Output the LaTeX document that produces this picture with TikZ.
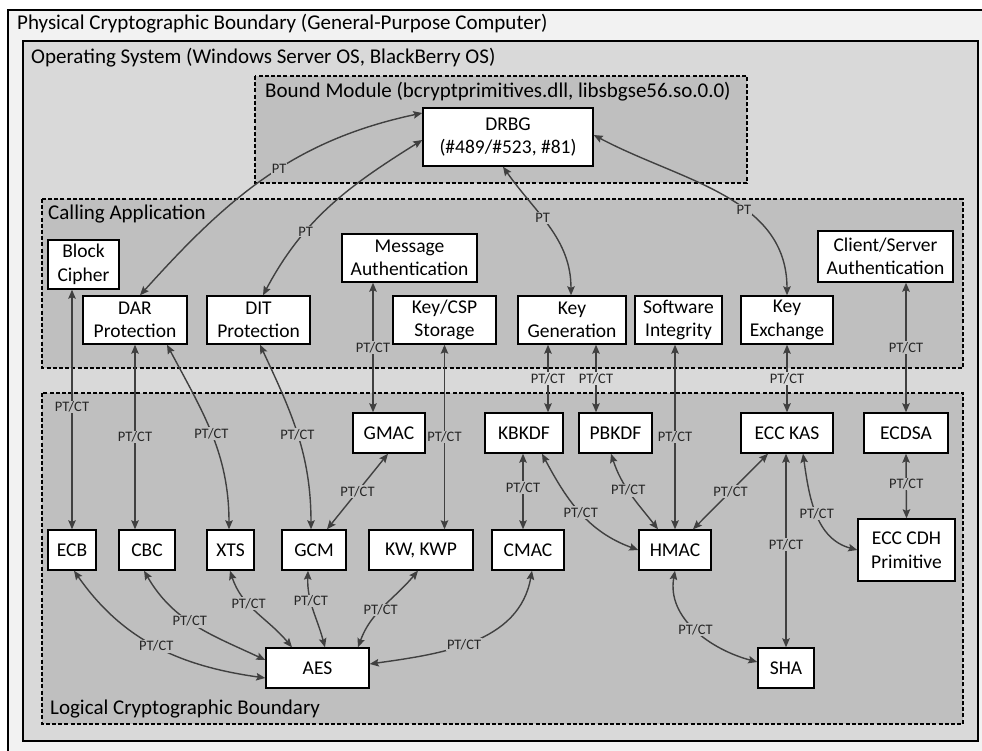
\documentclass[tikz,border=0pt]{standalone}
\usepackage{fontspec}
\setmainfont{Carlito}
\usetikzlibrary{arrows.meta,calc}
\definecolor{outerfill}{HTML}{F2F2F2}
\definecolor{osfill}{HTML}{D9D9D9}
\definecolor{innerfill}{HTML}{BFBFBF}
\definecolor{arrowcol}{HTML}{404040}
\begin{document}
\begin{tikzpicture}[x=1pt,y=1pt,
  box/.style={draw=black,line width=1.4pt,fill=white,inner sep=0pt,align=center,
    font=\fontsize{19.5}{23.5}\selectfont},
  region/.style={draw=black,line width=1.9pt,dash pattern=on 4pt off 2.2pt,fill=innerfill},
  title/.style={anchor=west,inner sep=0pt,font=\fontsize{21}{24}\selectfont},
  conn/.style={draw=arrowcol,line width=1.4pt,{Stealth[length=9pt,width=7.5pt,inset=1.5pt]}-{Stealth[length=9pt,width=7.5pt,inset=1.5pt]}},
  lbl/.style={fill=innerfill,inner sep=1pt,text=black!85,font=\fontsize{14.5}{16}\selectfont},
  lblos/.style={lbl,fill=osfill}]
\useasboundingbox (0,0) rectangle (982,-751);
\clip (0,0) rectangle (982,-751);
% regions
\draw[fill=outerfill,line width=1.4pt] (8,-10) rectangle (1000,-770);
\draw[fill=osfill,line width=1.4pt] (23,-41) rectangle (978,-741);
\draw[region] (255,-76) rectangle (747,-183);
\draw[region] (42,-199) rectangle (963,-368);
\draw[region] (42,-393) rectangle (963,-724);
\node[title] (tphys) at (17,-24) {Physical Cryptographic Boundary (General-Purpose Computer)};
\node[title] (tos) at (31,-58) {Operating System (Windows Server OS, BlackBerry OS)};
\node[title] (tbound) at (265,-92) {Bound Module (bcryptprimitives.dll, libsbgse56.so.0.0)};
\node[title] (tcall) at (48,-214) {Calling Application};
\node[title] (tlog) at (50,-709) {Logical Cryptographic Boundary};
% nodes
\node[box,minimum width=170,minimum height=58] (drbg) at (508,-137) {DRBG\\(\#489/\#523, \#81)};
\node[box,minimum width=71,minimum height=49] (blk) at (83.5,-264.5) {Block\\Cipher};
\node[box,minimum width=104,minimum height=48] (dar) at (135,-320) {DAR\\Protection};
\node[box,minimum width=103,minimum height=48] (dit) at (258.5,-320) {DIT\\Protection};
\node[box,minimum width=135,minimum height=48] (msg) at (409.5,-258) {Message\\Authentication};
\node[box,minimum width=103,minimum height=48] (kcsp) at (444.5,-320) {Key/CSP\\Storage};
\node[box,minimum width=108,minimum height=48] (kgen) at (572,-320) {Key\\Generation};
\node[box,minimum width=87,minimum height=48] (swi) at (678.5,-320) {Software\\Integrity};
\node[box,minimum width=92,minimum height=48] (kex) at (787,-320) {Key\\Exchange};
\node[box,minimum width=135,minimum height=51] (csa) at (885.5,-256.5) {Client/Server\\Authentication};
\node[box,minimum width=72,minimum height=40] (gmac) at (389,-433) {GMAC};
\node[box,minimum width=78,minimum height=40] (kbkdf) at (524,-433) {KBKDF};
\node[box,minimum width=73,minimum height=40] (pbkdf) at (615.5,-433) {PBKDF};
\node[box,minimum width=92,minimum height=40] (ecckas) at (787,-433) {ECC KAS};
\node[box,minimum width=84,minimum height=40] (ecdsa) at (906,-433) {ECDSA};
\node[box,minimum width=48,minimum height=40] (ecb) at (72,-550) {ECB};
\node[box,minimum width=56,minimum height=40] (cbc) at (147,-550) {CBC};
\node[box,minimum width=47,minimum height=40] (xts) at (230.5,-550) {XTS};
\node[box,minimum width=64,minimum height=40] (gcm) at (314,-550) {GCM};
\node[box,minimum width=104,minimum height=40] (kw) at (421,-550) {KW, KWP};
\node[box,minimum width=72,minimum height=40] (cmac) at (528,-550) {CMAC};
\node[box,minimum width=72,minimum height=40] (hmac) at (675,-550) {HMAC};
\node[box,minimum width=97,minimum height=62] (cdh) at (906.5,-550) {ECC CDH\\Primitive};
\node[box,minimum width=103,minimum height=40] (aes) at (317.5,-668) {AES};
\node[box,minimum width=56,minimum height=40] (sha) at (786,-668) {SHA};
% connectors to DRBG
\draw[conn] ([xshift=5]dar.north) to[out=48,in=192] node[lbl,pos=0.55]{PT} ([yshift=24]drbg.west);
\draw[conn] ([xshift=4.5]dit.north) to[out=62,in=212] node[lbl,pos=0.33]{PT} ([yshift=-3]drbg.west);
\draw[conn] ([xshift=-5]drbg.south) to[out=-55,in=90] node[lbl,pos=0.42]{PT} ([xshift=-1]kgen.north);
\draw[conn] ([yshift=2]drbg.east) to[out=-28,in=90] node[lbl,pos=0.6]{PT} (kex.north);
% calling app to logical
\draw[conn] (blk.south -| ecb.north) -- node[lbl,pos=0.49]{PT/CT} (ecb.north);
\draw[conn] (dar.south) -- node[lbl]{PT/CT} (dar.south |- cbc.north);
\draw[conn] ([xshift=32]dar.south) to[out=-62,in=90] node[lbl,pos=0.5]{PT/CT} ([xshift=-1.5]xts.north);
\draw[conn] ([xshift=1.5]dit.south) to[out=-65,in=90] node[lbl,pos=0.5]{PT/CT} ([xshift=-3]gcm.north);
\draw[conn] ([xshift=-36.5]msg.south) -- node[lbl]{PT/CT} ([xshift=-36.5]msg.south |- gmac.north);
\draw[conn] (kcsp.south) -- node[lbl]{PT/CT} (kcsp.south |- kw.north);
\draw[conn] ([xshift=-24]kgen.south) -- node[lblos]{PT/CT} ([xshift=-24]kgen.south |- kbkdf.north);
\draw[conn] ([xshift=24]kgen.south) -- node[lblos]{PT/CT} ([xshift=24]kgen.south |- pbkdf.north);
\draw[conn] (hmac.north |- swi.south) -- node[lbl]{PT/CT} (hmac.north);
\draw[conn] (kex.south) -- node[lblos]{PT/CT} (ecckas.north);
\draw[conn] (ecdsa.north |- csa.south) -- node[lbl]{PT/CT} (ecdsa.north);
% logical internal
\draw[conn] ([xshift=-1]gmac.south) -- node[lbl]{PT/CT} ([xshift=13]gcm.north);
\draw[conn] ([xshift=-1]kbkdf.south) -- node[lbl,pos=0.45]{PT/CT} ([xshift=-1]kbkdf.south |- cmac.north);
\draw[conn] ([xshift=18]kbkdf.south) to[out=-62,in=160] node[lbl,pos=0.5]{PT/CT} (hmac.west);
\draw[conn] ([xshift=-4.5]pbkdf.south) to[out=-72,in=128] node[lbl,pos=0.45]{PT/CT} ([xshift=-17]hmac.north);
\draw[conn] ([xshift=-19]ecckas.south) -- node[lbl]{PT/CT} ([xshift=18]hmac.north);
\draw[conn] (sha.north |- ecckas.south) -- node[lbl,pos=0.47]{PT/CT} (sha.north);
\draw[conn] ([xshift=16]ecckas.south) to[out=-82,in=165] node[lbl,pos=0.5]{PT/CT} (cdh.west);
\draw[conn] (ecdsa.south) -- node[lbl,pos=0.47]{PT/CT} (cdh.north);
% to AES
\draw[conn] ([xshift=2]ecb.south) to[out=-55,in=172] node[lbl,pos=0.5]{PT/CT} ([yshift=-10]aes.west);
\draw[conn] ([xshift=-3]cbc.south) to[out=-60,in=155] node[lbl,pos=0.45]{PT/CT} ([yshift=8]aes.west);
\draw[conn] ([xshift=-0.5]xts.south) to[out=-72,in=130] node[lbl,pos=0.38]{PT/CT} ([xshift=-25.5]aes.north);
\draw[conn] ([xshift=-6]gcm.south) to[out=-92,in=105] node[lbl,pos=0.38]{PT/CT} ([xshift=7.5]aes.north);
\draw[conn] ([xshift=-3]kw.south) to[out=-130,in=70] node[lbl,pos=0.55]{PT/CT} ([xshift=40.5]aes.north);
\draw[conn] ([xshift=4]cmac.south) to[out=-100,in=8] node[lbl,pos=0.55]{PT/CT} ([yshift=4]aes.east);
\draw[conn] (hmac.south) to[out=-100,in=165] node[lbl,pos=0.5]{PT/CT} ([yshift=6]sha.west);
\end{tikzpicture}
\end{document}
